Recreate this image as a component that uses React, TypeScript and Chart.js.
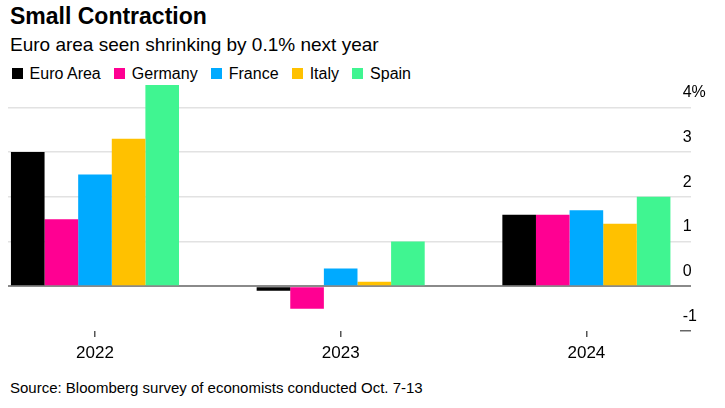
import { useEffect, useRef } from 'react';
import { Chart, registerables } from 'chart.js';

Chart.register(...registerables);

// GDP growth forecasts, % (Bloomberg survey)
const years = [2022, 2023, 2024];
const seriesNames = ['Euro Area', 'Germany', 'France', 'Italy', 'Spain'];
const euroArea = [3.0, -0.1, 1.6];
const germany = [1.5, -0.5, 1.6];
const france = [2.5, 0.4, 1.7];
const italy = [3.3, 0.1, 1.4];
const spain = [4.5, 1.0, 2.0];
const yTicks = [-1, 0, 1, 2, 3, 4];

const colors = ['#000000', '#ff0092', '#00aaff', '#ffc100', '#40f591'];
const FONT = '"Liberation Sans", Arial, sans-serif';

const App = () => {
  const canvasRef = useRef<HTMLCanvasElement>(null);

  useEffect(() => {
    document.body.style.margin = '0';
    if (!canvasRef.current) return;

    Chart.defaults.font.family = FONT;
    Chart.defaults.color = '#000';

    const values = [euroArea, germany, france, italy, spain];

    const chart = new Chart(canvasRef.current, {
      type: 'bar',
      data: {
        labels: years,
        datasets: seriesNames.map((name, i) => ({
          label: name,
          data: values[i],
          backgroundColor: colors[i],
          borderWidth: 0,
          categoryPercentage: 0.684,
          barPercentage: 1,
        })),
      },
      options: {
        animation: false,
        responsive: true,
        maintainAspectRatio: false,
        layout: { padding: { top: 6, left: 8, right: 0, bottom: 0 } },
        plugins: {
          legend: { display: false },
          tooltip: { enabled: false },
        },
        scales: {
          x: {
            type: 'linear',
            offset: false,
            min: years[0] - 0.354,
            max: years[years.length - 1] + 0.381,
            afterBuildTicks: (axis: any) => {
              axis.ticks = years.map((v) => ({ value: v }));
            },
            afterFit: (axis: any) => {
              axis.height = 40;
            },
            border: { display: false },
            grid: {
              offset: false,
              drawOnChartArea: false,
              tickLength: 6,
              tickColor: '#555',
              lineWidth: 1.5,
            },
            ticks: {
              padding: 6,
              color: '#000',
              font: { size: 17 },
              maxRotation: 0,
              autoSkip: false,
              callback: (v: any) => String(v),
            },
          },
          y: {
            position: 'right',
            min: -1,
            max: 4.5,
            afterBuildTicks: (axis: any) => {
              axis.ticks = yTicks.map((v) => ({ value: v }));
            },
            afterFit: (axis: any) => {
              axis.width = 45;
            },
            border: { display: false },
            grid: {
              color: (c: any) =>
                c.tick.value === 0 ? '#8a8a8a' : c.tick.value === -1 ? 'rgba(0,0,0,0)' : '#e2e2e2',
              tickColor: (c: any) =>
                c.tick.value === -1 ? '#666' : c.tick.value === 0 ? '#8a8a8a' : '#e2e2e2',
              lineWidth: (c: any) => (c.tick.value === 0 ? 2 : 1.5),
              tickLength: 11,
            },
            ticks: {
              padding: -8.3,
              labelOffset: -14.6,
              crossAlign: 'near',
              color: '#000',
              font: { size: 16 },
              callback: (v: any) => (v === 4 ? '4%' : String(v)),
            },
          },
        },
      },
    });

    return () => {
      chart.destroy();
    };
  }, []);

  return (
    <div style={{ position: 'relative', width: 725, height: 408, fontFamily: FONT, color: '#000' }}>
      <div style={{ position: 'absolute', left: 10, top: 4.5, fontSize: 23, lineHeight: '23px', fontWeight: 700, whiteSpace: 'nowrap' }}>
        Small Contraction
      </div>
      <div style={{ position: 'absolute', left: 10, top: 34.6, fontSize: 19, lineHeight: '19px', whiteSpace: 'nowrap' }}>
        Euro area seen shrinking by 0.1% next year
      </div>
      <div style={{ position: 'absolute', left: 12, top: 65.5, fontSize: 16, lineHeight: '16px', whiteSpace: 'nowrap' }}>
        {seriesNames.map((name, i) => (
          <span key={name} style={{ marginRight: 13.5 }}>
            <span style={{ display: 'inline-block', width: 11, height: 11, background: colors[i], marginRight: 6.6 }} />
            {name}
          </span>
        ))}
      </div>
      <div style={{ position: 'absolute', left: 0, top: 79, width: 725, height: 292 }}>
        <canvas ref={canvasRef} />
      </div>
      <div style={{ position: 'absolute', left: 10, top: 380, fontSize: 15, lineHeight: '15px', whiteSpace: 'nowrap' }}>
        Source: Bloomberg survey of economists conducted Oct. 7-13
      </div>
    </div>
  );
};

export default App;
